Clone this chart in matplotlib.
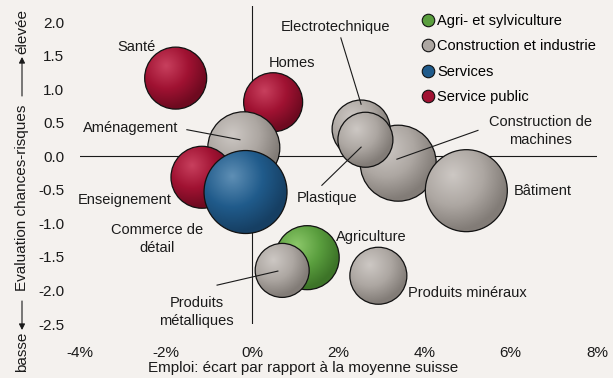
import numpy as np
import matplotlib
matplotlib.use("Agg")
import matplotlib.pyplot as plt
from matplotlib.patches import Ellipse, FancyArrowPatch
from matplotlib.lines import Line2D
from matplotlib.colors import to_rgb

plt.rcParams["font.family"] = ["Liberation Sans", "DejaVu Sans"]
plt.rcParams["axes.unicode_minus"] = False

# ── Données ──────────────────────────────────────────────────────────────────
branches = ["Santé", "Homes", "Aménagement", "Enseignement", "Commerce de détail",
            "Construction de machines", "Bâtiment", "Electrotechnique", "Plastique",
            "Agriculture", "Produits métalliques", "Produits minéraux"]
groupe = ["public", "public", "constr", "public", "services",
          "constr", "constr", "constr", "constr",
          "agri", "constr", "constr"]
emploi = [-1.77, 0.49, -0.19, -1.16, -0.15, 3.39, 4.97, 2.53, 2.63, 1.28, 0.70, 2.93]
chances_risques = [1.17, 0.81, 0.13, -0.31, -0.53, -0.10, -0.51, 0.41, 0.25, -1.51, -1.70, -1.78]
taille = [31, 29.5, 36, 31, 41.5, 38, 41, 29, 27.5, 32, 27, 28.5]   # rayon relatif

groupes = ["agri", "constr", "services", "public"]
groupe_labels = ["Agri- et sylviculture", "Construction et industrie", "Services", "Service public"]

x_ticks = [-4, -2, 0, 2, 4, 6, 8]
y_ticks = [2.0, 1.5, 1.0, 0.5, 0.0, -0.5, -1.0, -1.5, -2.0, -2.5]

# couleurs: clair, base, foncé
PALETTE = {
    "agri":     ("#8cc86a", "#5a9e3e", "#3d7428"),
    "constr":   ("#cdc8c4", "#ada7a2", "#827c77"),
    "services": ("#5f8fb5", "#205b8b", "#163f63"),
    "public":   ("#c8405e", "#a01232", "#6e0a20"),
}
BG = "#f4f1ee"
INK = "#1a1a1a"

# ── Mise en page ─────────────────────────────────────────────────────────────
W, H = 613, 378
fig = plt.figure(figsize=(W / 100, H / 100), dpi=100, facecolor=BG)
ax_l, ax_r, ax_t, ax_b = 79.5, 597, 5.75, 324
ax = fig.add_axes([ax_l / W, 1 - ax_b / H, (ax_r - ax_l) / W, (ax_b - ax_t) / H])
ax.set_facecolor(BG)
ax.set_xlim(-4, 8)
ax.set_ylim(-2.5, 2.25)
for s in ax.spines.values():
    s.set_visible(False)

FS = 11
ax.set_xticks(x_ticks)
ax.set_xticklabels([f"{v}%" for v in x_ticks])
ax.set_yticks(y_ticks)
ax.set_yticklabels([f"{v:.1f}" for v in y_ticks])
ax.tick_params(axis="both", length=0, labelsize=FS, colors=INK)
ax.tick_params(axis="x", pad=15.5)
ax.tick_params(axis="y", pad=11)

ax.axhline(0, color=INK, lw=0.8, zorder=1)
ax.axvline(0, color=INK, lw=0.8, zorder=1)

px_x = (ax_r - ax_l) / 12.0
px_y = (ax_b - ax_t) / 4.75


def sphere(ax, cx, cy, r, cols, z):
    rx, ry = r / px_x, r / px_y
    n = 120
    u = np.linspace(-1, 1, n)
    uu, vv = np.meshgrid(u, u[::-1])
    d = np.sqrt((uu + 0.32) ** 2 + (vv - 0.38) ** 2) / 1.35
    d = np.clip(d, 0, 1)
    light, base, dark = [np.array(to_rgb(c)) for c in cols]
    t1 = np.clip(d / 0.55, 0, 1)[..., None]
    t2 = np.clip((d - 0.55) / 0.45, 0, 1)[..., None]
    img = light * (1 - t1) + base * t1
    img = img * (1 - t2) + dark * t2
    im = ax.imshow(img, extent=[cx - rx, cx + rx, cy - ry, cy + ry],
                   interpolation="bilinear", zorder=z, aspect="auto")
    e = Ellipse((cx, cy), 2 * rx, 2 * ry, facecolor="none",
                edgecolor="#111111", lw=0.9, zorder=z + 0.5)
    ax.add_patch(e)
    im.set_clip_path(e)


for i, (x, y, r, g) in enumerate(zip(emploi, chances_risques, taille, groupe)):
    sphere(ax, x, y, r, PALETTE[g], 3 + i)

ax.set_xlim(-4, 8)
ax.set_ylim(-2.5, 2.25)

# ── Étiquettes ───────────────────────────────────────────────────────────────
LFS = 10.5
TXT = dict(fontsize=LFS, color=INK, zorder=30, va="center")
ax.text(-2.67, 1.63, "Santé", ha="center", **TXT)
ax.text(0.93, 1.40, "Homes", ha="center", **TXT)
ax.text(1.93, 1.93, "Electrotechnique", ha="center", **TXT)
ax.text(-1.70, 0.42, "Aménagement", ha="right", **TXT)
ax.text(6.68, 0.38, "Construction de\nmachines", ha="center", linespacing=1.35, **TXT)
ax.text(1.74, -0.62, "Plastique", ha="center", **TXT)
ax.text(6.08, -0.51, "Bâtiment", ha="left", **TXT)
ax.text(-1.86, -0.65, "Enseignement", ha="right", **TXT)
ax.text(-2.20, -1.23, "Commerce de\ndétail", ha="center", linespacing=1.35, **TXT)
ax.text(1.95, -1.20, "Agriculture", ha="left", **TXT)
ax.text(3.62, -2.04, "Produits minéraux", ha="left", **TXT)
ax.text(-1.28, -2.32, "Produits\nmétalliques", ha="center", linespacing=1.35, **TXT)

leaders = [((2.06, 1.77), (2.53, 0.78)),
           ((-1.51, 0.40), (-0.28, 0.25)),
           ((5.24, 0.39), (3.36, -0.04)),
           ((1.62, -0.43), (2.53, 0.14)),
           ((-0.81, -1.92), (0.60, -1.71))]
for (x0, y0), (x1, y1) in leaders:
    ax.plot([x0, x1], [y0, y1], color=INK, lw=0.8, zorder=40)

# ── Légende ──────────────────────────────────────────────────────────────────
handles = [Line2D([], [], marker="o", ls="none", markersize=9,
                  markerfacecolor=PALETTE[g][1], markeredgecolor="#111111",
                  markeredgewidth=0.8) for g in groupes]
leg = ax.legend(handles, groupe_labels, loc="upper left", frameon=False,
                bbox_to_anchor=(421 / W, 1 - 14 / H), bbox_transform=fig.transFigure,
                fontsize=LFS, handletextpad=0.1, labelspacing=0.78,
                handlelength=1.0, borderpad=0, borderaxespad=0)
leg.set_zorder(50)

# ── Titres des axes ──────────────────────────────────────────────────────────
fig.text(303 / W, 1 - 368 / H, "Emploi: écart par rapport à la moyenne suisse",
         ha="center", va="center", fontsize=FS, color=INK)
yl = dict(rotation=90, ha="center", va="center", fontsize=FS, color=INK)
fig.text(22 / W, 1 - 32 / H, "élevée", **yl)
fig.text(22 / W, 1 - 198 / H, "Evaluation chances-risques", **yl)
fig.text(22 / W, 1 - 352 / H, "basse", **yl)
arrow = dict(arrowstyle="-|>,head_length=0.35,head_width=0.18", color=INK, lw=0.8,
             shrinkA=0, shrinkB=0, mutation_scale=10, transform=fig.transFigure)
fig.add_artist(FancyArrowPatch((22 / W, 1 - 96 / H), (22 / W, 1 - 57 / H), **arrow))
fig.add_artist(FancyArrowPatch((22 / W, 1 - 301 / H), (22 / W, 1 - 330 / H), **arrow))

fig.savefig("out.png", dpi=100, facecolor=BG)
